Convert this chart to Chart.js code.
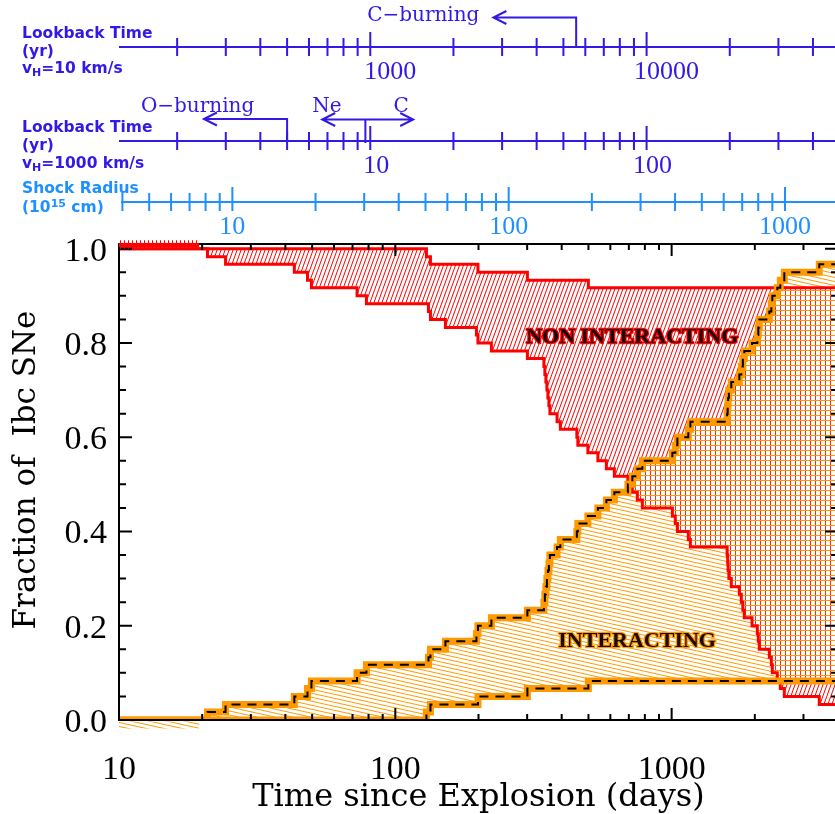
<!DOCTYPE html>
<html><head><meta charset="utf-8">
<script src="https://cdn.jsdelivr.net/npm/chart.js@4.4.1/dist/chart.umd.min.js"></script>
<style>html,body{margin:0;padding:0;overflow:hidden;background:#fff}canvas{display:block}</style>
</head><body>
<canvas id="c" width="840" height="814"></canvas>
<script>
// ---------------- data ----------------
// Interacting SNe Ibc, upper bound: step start times (days) and fractions
const intUpperDays = [10, 20.9, 24.3, 43.1, 48.1, 49.7, 72.7, 78.6, 131.8, 134, 151.8, 196.6, 199.1, 222.7, 300.6,
  344.9, 347.7, 350.7, 353.6, 356.6, 359.6, 362.6, 384.9, 395.6, 453.9, 457.7, 497.6, 540.8, 580.4, 620.4,
  694.2, 720.8, 751.4, 783.4, 1006, 1031, 1049, 1149, 1169, 1588, 1595, 1601, 1611, 1644, 1758, 1787, 1810,
  1832, 1954, 2042, 2059, 2076, 2257, 2295, 2314, 2412, 2473, 2557, 3422];
const intUpperFrac = [0, 0.017, 0.033, 0.05, 0.067, 0.083, 0.1, 0.117, 0.133, 0.15, 0.167, 0.183, 0.2, 0.217, 0.233,
  0.25, 0.267, 0.283, 0.3, 0.317, 0.333, 0.35, 0.367, 0.383, 0.4, 0.417, 0.433, 0.45, 0.467, 0.483,
  0.5, 0.517, 0.533, 0.55, 0.567, 0.583, 0.6, 0.617, 0.633, 0.65, 0.667, 0.683, 0.7, 0.717, 0.733, 0.75, 0.767,
  0.783, 0.8, 0.817, 0.833, 0.85, 0.867, 0.883, 0.9, 0.917, 0.933, 0.95, 0.967];
// Interacting, lower bound
const intLowerDays = [10, 129.6, 134, 199.1, 300.6, 499.6];
const intLowerFrac = [0, 0.017, 0.033, 0.05, 0.067, 0.083];
// Non-interacting, upper bound
const nonUpperDays = [10, 129.6, 134, 199.1, 300.6, 499.6];
const nonUpperFrac = [1, 0.983, 0.967, 0.95, 0.933, 0.917];
// Non-interacting, lower bound
const nonLowerDays = [10, 20.9, 24.3, 43.1, 48.1, 49.7, 72.7, 78.6, 131.8, 134, 151.8, 196.6, 199.1, 222.7, 300.6,
  344.9, 347.7, 350.7, 353.6, 356.6, 359.6, 362.6, 384.9, 395.6, 453.9, 457.7, 497.6, 540.8, 580.4, 620.4,
  694.2, 720.8, 751.4, 783.4, 1006, 1031, 1049, 1149, 1169, 1588, 1595, 1601, 1611, 1644, 1758, 1787, 1810,
  1832, 1954, 2042, 2059, 2076, 2257, 2295, 2314, 2412, 2473, 2557, 3422];
const nonLowerFrac = [1, 0.983, 0.967, 0.95, 0.933, 0.917, 0.9, 0.883, 0.867, 0.85, 0.833, 0.817, 0.8, 0.783, 0.767,
  0.75, 0.733, 0.717, 0.7, 0.683, 0.667, 0.65, 0.633, 0.617, 0.6, 0.583, 0.567, 0.55, 0.533, 0.517,
  0.5, 0.483, 0.467, 0.45, 0.433, 0.417, 0.4, 0.383, 0.367, 0.35, 0.333, 0.317, 0.3, 0.283, 0.267, 0.25, 0.233,
  0.217, 0.2, 0.183, 0.167, 0.15, 0.133, 0.117, 0.1, 0.083, 0.067, 0.05, 0.033];

// tick labels
const xTickLabels = [10, 100, 1000];
const yTickLabels = [0, 0.2, 0.4, 0.6, 0.8, 1.0];
const lookback10Labels = [1000, 10000];
const lookback1000Labels = [10, 100];
const shockLabels = [10, 100, 1000];

// axis ranges and conversion constants
const X_MIN = 10, X_MAX = 4000, Y_MIN = 0, Y_MAX = 1.01;
const V_SHOCK = 45000;          // km/s
const V_WIND = [10, 1000];      // km/s
const yrPerDay = v => V_SHOCK / v / 365.25;
const r15PerDay = V_SHOCK * 1e5 * 86400 / 1e15;

// burning-phase markers (lookback years)
const cBurning = {from: 5560, to: 2790};           // on v_H = 10 km/s axis
const oBurning = {from: 5.0, to: 2.5};             // on v_H = 1000 km/s axis
const neC = {from: 6.7, mark: 9.6, to: 14.3};      // on v_H = 1000 km/s axis

// small hatch spill-overs beyond the frame at early times (days, fraction)
const spillRed = {from: 10, to: 19.5, y0: 1.0, y1: 1.018};
const spillOrange = {from: 10, to: 19.5, y0: -0.003, y1: -0.018};

// ---------------- styling ----------------
const canvas = document.getElementById('c');
const ctx = canvas.getContext('2d');
const W = canvas.width, H = canvas.height;
const BLUE = '#3219E6', LBLUE = '#1E90FF', RED = '#FF0000', ORANGE = '#FF9900';

function pattern(w, h, draw) {
  const c = document.createElement('canvas'); c.width = w; c.height = h;
  const g = c.getContext('2d'); draw(g, w, h);
  return ctx.createPattern(c, 'repeat');
}
const redHatch = pattern(4, 11, (g, w, h) => {
  g.strokeStyle = RED; g.lineWidth = 1; g.beginPath();
  for (let i = -1; i <= 1; i++) { g.moveTo(i * w, h); g.lineTo(i * w + w, 0); }
  g.stroke();
});
const redVertical = pattern(4, 4, (g, w, h) => { g.fillStyle = RED; g.fillRect(0, 0, 1, h); });
const orangeHatch = pattern(18, 4, (g, w, h) => {
  g.strokeStyle = ORANGE; g.lineWidth = 1; g.beginPath();
  for (let i = -1; i <= 1; i++) { g.moveTo(0, i * h); g.lineTo(w, i * h + h); }
  g.stroke();
});
const crossHatch = pattern(5, 5, (g, w, h) => {
  g.fillStyle = '#fff'; g.fillRect(0, 0, w, h);
  g.fillStyle = 'rgba(255,0,0,0.85)'; g.fillRect(0, 0, 1, h);
  g.fillStyle = ORANGE; g.fillRect(0, 0, w, 1);
});

function pts(xs, ys) {
  const p = xs.map((x, i) => ({x, y: ys[i]}));
  p.push({x: X_MAX, y: ys[ys.length - 1]});
  return p;
}
function stepValue(xs, ys, x) {
  let v = ys[0];
  for (let i = 0; i < xs.length; i++) if (xs[i] <= x) v = ys[i];
  return v;
}
// overlap of the two bands (both hatches)
const ovGrid = Array.from(new Set([...nonUpperDays, ...nonLowerDays, ...intUpperDays, ...intLowerDays, X_MAX])).sort((a, b) => a - b);
const overlapTop = [], overlapBottom = [];
for (const x of ovGrid) {
  const top = Math.min(stepValue(nonUpperDays, nonUpperFrac, x), stepValue(intUpperDays, intUpperFrac, x));
  const bot = Math.max(stepValue(nonLowerDays, nonLowerFrac, x), stepValue(intLowerDays, intLowerFrac, x));
  overlapBottom.push({x, y: bot});
  overlapTop.push({x, y: Math.max(top, bot)});
}

const common = {stepped: true, pointRadius: 0, pointHoverRadius: 0, clip: 0, borderJoinStyle: 'miter', borderCapStyle: 'butt'};
const datasets = [
  {label: 'Non interacting (upper)', data: pts(nonUpperDays, nonUpperFrac), borderColor: RED, borderWidth: 3,
    backgroundColor: redHatch, fill: {target: 1}, order: 5, ...common},
  {label: 'Non interacting (lower)', data: pts(nonLowerDays, nonLowerFrac), borderColor: RED, borderWidth: 3,
    fill: false, order: 5, ...common},
  {label: 'Interacting (upper)', data: pts(intUpperDays, intUpperFrac), borderColor: ORANGE, borderWidth: 7,
    backgroundColor: orangeHatch, fill: {target: 3}, order: 4, ...common},
  {label: 'Interacting (lower)', data: pts(intLowerDays, intLowerFrac), borderColor: ORANGE, borderWidth: 7,
    fill: false, order: 4, ...common},
  {label: 'overlap top', data: overlapTop, borderColor: 'rgba(0,0,0,0)', borderWidth: 1,
    backgroundColor: crossHatch, fill: {target: 5}, order: 3, ...common},
  {label: 'overlap bottom', data: overlapBottom, borderColor: 'rgba(0,0,0,0)', borderWidth: 1,
    fill: false, order: 3, ...common},
  {label: 'Interacting (upper) dash', data: pts(intUpperDays, intUpperFrac), borderColor: '#000', borderWidth: 2,
    borderDash: [9, 7], fill: false, order: 0, ...common},
  {label: 'Interacting (lower) dash', data: pts(intLowerDays, intLowerFrac), borderColor: '#000', borderWidth: 2,
    borderDash: [9, 7], fill: false, order: 0, ...common}
];

const regionLabels = [
  {text: 'NON INTERACTING', x: 720, y: 0.813, glow: RED, ink: '#1a0000'},
  {text: 'INTERACTING', x: 750, y: 0.166, glow: ORANGE, ink: '#1a0a00'}
];

function logTicks(min, max) {
  const out = [];
  for (let e = Math.floor(Math.log10(min)); e <= Math.ceil(Math.log10(max)); e++) {
    for (let m = 1; m <= 9; m++) {
      const v = m * Math.pow(10, e);
      if (v >= min * 0.9999 && v <= max) out.push({v, major: m === 1});
    }
  }
  return out;
}
function isLabel(list, v) { return list.some(t => Math.abs(t - v) < 1e-6 * Math.max(t, 1e-3)); }

function arrowHead(c, tipX, tipY, dir) {
  c.moveTo(tipX + dir * 13, tipY - 6.5); c.lineTo(tipX, tipY); c.lineTo(tipX + dir * 13, tipY + 6.5);
}

function drawTopAxis(c, scale, lineY, color, labels, labelY, labelDx, left, right) {
  c.strokeStyle = color; c.fillStyle = color; c.lineWidth = 2;
  c.beginPath(); c.moveTo(left, lineY); c.lineTo(right, lineY);
  for (const t of logTicks(scale.min, scale.max)) {
    const px = scale.getPixelForValue(t.v);
    c.moveTo(px, lineY - (t.major ? 15 : 9)); c.lineTo(px, lineY + 9);
  }
  c.stroke();
  c.font = '26px "Liberation Serif"'; c.textAlign = 'center'; c.textBaseline = 'middle';
  for (const v of labels) c.fillText(String(v), scale.getPixelForValue(v) + labelDx, labelY);
}

function drawParts(c, x, y, parts) {
  let cx = x;
  for (const p of parts) {
    c.font = p.font; c.fillText(p.t, cx, y + (p.dy || 0)); cx += c.measureText(p.t).width;
  }
}

function spill(c, x, y, s, pat) {
  const l = x.getPixelForValue(s.from), r = x.getPixelForValue(s.to);
  const t = Math.min(y.getPixelForValue(s.y0), y.getPixelForValue(s.y1));
  const b = Math.max(y.getPixelForValue(s.y0), y.getPixelForValue(s.y1));
  c.fillStyle = pat; c.fillRect(l, t, r - l, b - t);
  return {l, r, t, b};
}

const decor = {
  id: 'decor',
  afterDatasetsDraw(chart) {
    const {ctx: c, chartArea: a, scales: {x, y}} = chart;
    c.save();
    // region labels
    c.font = 'bold 22px "Liberation Serif"'; c.textAlign = 'center'; c.textBaseline = 'middle';
    c.lineJoin = 'round';
    for (const r of regionLabels) {
      const px = x.getPixelForValue(r.x), py = y.getPixelForValue(r.y);
      c.lineWidth = 2.5; c.strokeStyle = r.glow; c.strokeText(r.text, px, py);
      c.fillStyle = r.ink; c.fillText(r.text, px, py);
    }
    // frame
    c.strokeStyle = '#000'; c.lineWidth = 2; c.lineJoin = 'miter';
    c.strokeRect(a.left, a.top, a.right - a.left, a.bottom - a.top);
    c.beginPath();
    for (let i = 0; i <= 20; i++) {
      const v = i * 0.05;
      const py = y.getPixelForValue(v);
      const len = isLabel(yTickLabels, v) ? 13 : 7;
      c.moveTo(a.left, py); c.lineTo(a.left + len, py);
      c.moveTo(a.right, py); c.lineTo(a.right - len, py);
    }
    for (const t of logTicks(X_MIN, X_MAX)) {
      const px = x.getPixelForValue(t.v);
      const len = t.major ? 12 : 6;
      c.moveTo(px, a.bottom); c.lineTo(px, a.bottom - len);
      c.moveTo(px, a.top); c.lineTo(px, a.top + len);
    }
    c.stroke();
    // hatch spill-overs at early times
    const rb = spill(c, x, y, spillRed, redVertical);
    c.fillStyle = RED; c.fillRect(rb.l, a.top - 1, rb.r - rb.l, 4);
    spill(c, x, y, spillOrange, orangeHatch);
    c.restore();
  },
  afterDraw(chart) {
    const {ctx: c, chartArea: a, scales} = chart;
    c.save();
    // titles
    c.fillStyle = '#000'; c.textAlign = 'center'; c.textBaseline = 'alphabetic';
    c.font = '32px "DejaVu Serif"';
    c.fillText('Time since Explosion (days)', (a.left + a.right) / 2, 806);
    c.save(); c.translate(35, 470); c.rotate(-Math.PI / 2);
    c.font = '31px "DejaVu Serif"'; c.fillText('Fraction of  Ibc SNe', 0, 0); c.restore();

    // top axes
    const L = a.left, R = W;
    drawTopAxis(c, scales.lb10, 47, BLUE, lookback10Labels, 72, 20, L, R);
    drawTopAxis(c, scales.lb1000, 141, BLUE, lookback1000Labels, 166, 6, L, R);
    drawTopAxis(c, scales.shock, 202, LBLUE, shockLabels, 227, 0, L + 2, R);

    // axis captions
    c.textAlign = 'left'; c.textBaseline = 'alphabetic'; c.fillStyle = BLUE;
    const B = 'bold 15.5px "DejaVu Sans"', S = 'bold 11px "DejaVu Sans"';
    drawParts(c, 22, 38, [{t: 'Lookback Time', font: B}]);
    drawParts(c, 22, 56, [{t: '(yr)', font: B}]);
    drawParts(c, 22, 73, [{t: 'v', font: B}, {t: 'H', font: S, dy: 3}, {t: '=' + V_WIND[0] + ' km/s', font: B}]);
    drawParts(c, 22, 132, [{t: 'Lookback Time', font: B}]);
    drawParts(c, 22, 150, [{t: '(yr)', font: B}]);
    drawParts(c, 22, 168, [{t: 'v', font: B}, {t: 'H', font: S, dy: 3}, {t: '=' + V_WIND[1] + ' km/s', font: B}]);
    c.fillStyle = LBLUE;
    drawParts(c, 22, 193, [{t: 'Shock Radius', font: B}]);
    drawParts(c, 22, 212, [{t: '(10', font: B}, {t: '15', font: S, dy: -5}, {t: ' cm)', font: B}]);

    // burning-phase arrows
    c.strokeStyle = BLUE; c.fillStyle = BLUE; c.lineWidth = 2;
    const s1 = scales.lb10, s2 = scales.lb1000;
    let x0 = s1.getPixelForValue(cBurning.from), x1 = s1.getPixelForValue(cBurning.to);
    c.beginPath(); c.moveTo(x0, 47); c.lineTo(x0, 17.5); c.lineTo(x1, 17.5); arrowHead(c, x1, 17.5, 1); c.stroke();
    c.font = '20px "DejaVu Serif"'; c.textAlign = 'right';
    c.fillText('C\u2212burning', x1 - 14, 21);

    x0 = s2.getPixelForValue(oBurning.from); x1 = s2.getPixelForValue(oBurning.to);
    c.beginPath(); c.moveTo(x0, 141); c.lineTo(x0, 119); c.lineTo(x1, 119); arrowHead(c, x1, 119, 1); c.stroke();
    c.textAlign = 'left';
    c.fillText('O\u2212burning', x1 - 63, 112);

    const n0 = s2.getPixelForValue(neC.from), nm = s2.getPixelForValue(neC.mark), n1 = s2.getPixelForValue(neC.to);
    c.beginPath(); c.moveTo(n0, 119.5); c.lineTo(n1, 119.5);
    arrowHead(c, n0, 119.5, 1); arrowHead(c, n1, 119.5, -1);
    c.moveTo(nm, 119.5); c.lineTo(nm, 143); c.stroke();
    c.textAlign = 'left'; c.fillText('Ne', n0 - 10, 112);
    c.textAlign = 'center'; c.fillText('C', n1 - 12, 112);
    c.restore();
  }
};

new Chart(ctx, {
  type: 'line',
  data: {datasets},
  options: {
    responsive: false, animation: false, devicePixelRatio: 1,
    events: [],
    layout: {padding: {top: 244, right: W - 838, bottom: 0, left: 0}},
    scales: {
      x: {
        type: 'logarithmic', position: 'bottom', min: X_MIN, max: X_MAX,
        grid: {display: false, drawTicks: true, tickLength: 30}, border: {display: false},
        ticks: {
          autoSkip: false, maxRotation: 0, minRotation: 0, padding: 0, color: '#000',
          font: {family: 'Liberation Serif', size: 34},
          callback: v => isLabel(xTickLabels, v) ? String(v) : ''
        },
        afterFit: s => { s.height = 94; }
      },
      y: {
        type: 'linear', min: Y_MIN, max: Y_MAX,
        grid: {display: false, drawTicks: true, tickLength: 12}, border: {display: false},
        ticks: {
          stepSize: 0.2, includeBounds: false, padding: 0, color: '#000', labelOffset: 3,
          font: {family: 'Liberation Serif', size: 34},
          callback: v => isLabel(yTickLabels, v) ? v.toFixed(1) : ''
        },
        afterFit: s => { s.width = 119; }
      },
      lb10: {type: 'logarithmic', axis: 'x', position: 'top', display: false,
        min: X_MIN * yrPerDay(V_WIND[0]), max: X_MAX * yrPerDay(V_WIND[0])},
      lb1000: {type: 'logarithmic', axis: 'x', position: 'top', display: false,
        min: X_MIN * yrPerDay(V_WIND[1]), max: X_MAX * yrPerDay(V_WIND[1])},
      shock: {type: 'logarithmic', axis: 'x', position: 'top', display: false,
        min: X_MIN * r15PerDay, max: X_MAX * r15PerDay}
    },
    plugins: {
      legend: {display: false}, tooltip: {enabled: false},
      filler: {drawTime: 'beforeDatasetsDraw', propagate: false}
    }
  },
  plugins: [decor]
});
</script>
</body></html>
